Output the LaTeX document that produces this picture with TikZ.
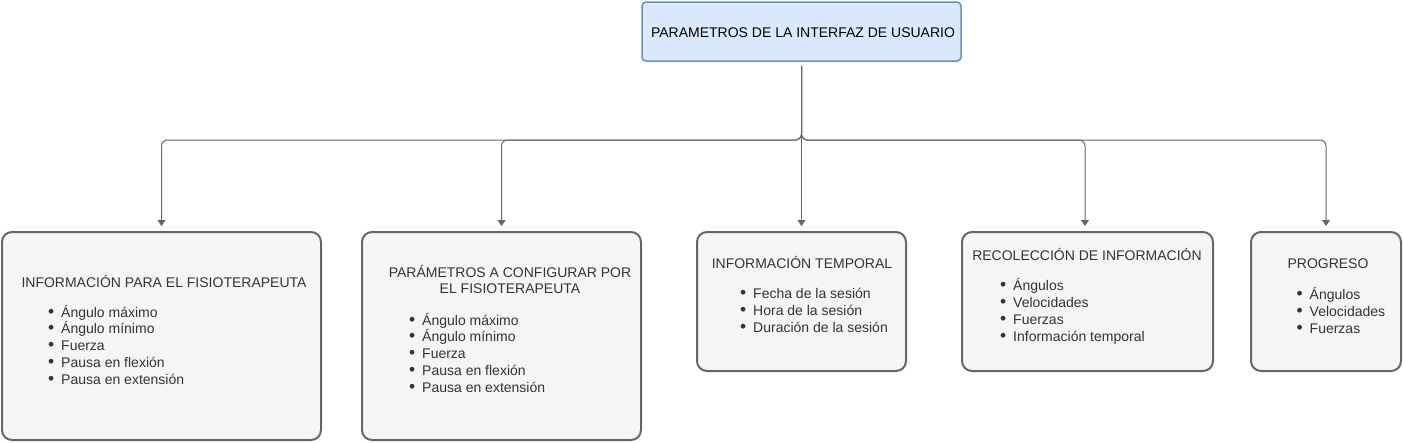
\documentclass[tikz,border=0pt]{standalone}
\usepackage{fontspec}
\setmainfont{Liberation Sans}
\usetikzlibrary{arrows.meta}
\definecolor{topfill}{HTML}{DAE8FC}
\definecolor{topline}{HTML}{6C8EBF}
\definecolor{boxfill}{HTML}{F5F5F5}
\definecolor{boxline}{HTML}{666666}
\definecolor{txtgray}{HTML}{333333}
\begin{document}
\begin{tikzpicture}[x=1pt,y=-1pt,>={Triangle[length=6pt,width=8pt]},
  font=\fontsize{14}{17}\selectfont,
  topbox/.style={draw=topline,fill=topfill,line width=1.5pt,rounded corners=4pt,inner sep=0pt},
  box/.style={draw=boxline,fill=boxfill,line width=2pt,rounded corners=10pt,inner sep=0pt},
  title/.style={anchor=base,inner sep=0pt,text=txtgray},
  item/.style={anchor=base west,inner sep=0pt,text=txtgray,
    execute at begin node={\llap{\scalebox{1.25}{\textbullet}\hspace{7pt}}}},
  edge/.style={draw=boxline,line width=1pt,rounded corners=6pt,->,shorten <=4pt,shorten >=5pt}]
\useasboundingbox (0,0) rectangle (1403,442);
% top box
\node[topbox,minimum width=319pt,minimum height=59pt] (top) at (801.5,31.5) {};
\node[anchor=base,inner sep=0pt] (toptitle) at (803,37) {PARAMETROS DE LA INTERFAZ DE USUARIO};
% children
\node[box,minimum width=319pt,minimum height=208pt] (c1) at (161.5,336) {};
\node[box,minimum width=279pt,minimum height=208pt] (c2) at (501.5,336) {};
\node[box,minimum width=209pt,minimum height=139pt] (c3) at (801.5,301.5) {};
\node[box,minimum width=251pt,minimum height=139pt] (c4) at (1087.5,301.5) {};
\node[box,minimum width=150pt,minimum height=139pt] (c5) at (1326,301.5) {};
% titles
\node[title] (t1) at (164,287) {INFORMACIÓN PARA EL FISIOTERAPEUTA};
\node[title] (t2a) at (510,277) {PARÁMETROS A CONFIGURAR POR};
\node[title] (t2b) at (510,293.5) {EL FISIOTERAPEUTA};
\node[title] (t3) at (802,268) {INFORMACIÓN TEMPORAL};
\node[title] (t4) at (1087,260) {RECOLECCIÓN DE INFORMACIÓN};
\node[title] (t5) at (1328,268.5) {PROGRESO};
% lists
\foreach \t [count=\i from 0] in {Ángulo máximo,Ángulo mínimo,Fuerza,Pausa en flexión,Pausa en extensión}
  \node[item] (a\i) at (61,317+16.9*\i) {\t};
\foreach \t [count=\i from 0] in {Ángulo máximo,Ángulo mínimo,Fuerza,Pausa en flexión,Pausa en extensión}
  \node[item] (b\i) at (422,325+16.9*\i) {\t};
\foreach \t [count=\i from 0] in {Fecha de la sesión,Hora de la sesión,Duración de la sesión}
  \node[item] (d\i) at (753,298.3+16.9*\i) {\t};
\foreach \t [count=\i from 0] in {Ángulos,Velocidades,Fuerzas,Información temporal}
  \node[item] (e\i) at (1013,290.5+16.9*\i) {\t};
\foreach \t [count=\i from 0] in {Ángulos,Velocidades,Fuerzas}
  \node[item] (f\i) at (1309.5,299.5+16.9*\i) {\t};
% connectors
\coordinate (hub) at (801.5,140);
\coordinate (c4in) at ([xshift=-2.5pt]c4.north);
\foreach \c in {c1,c2,c3,c4in,c5}
  \draw[edge] (top.south) -- (hub) -| (\c);
\end{tikzpicture}
\end{document}
